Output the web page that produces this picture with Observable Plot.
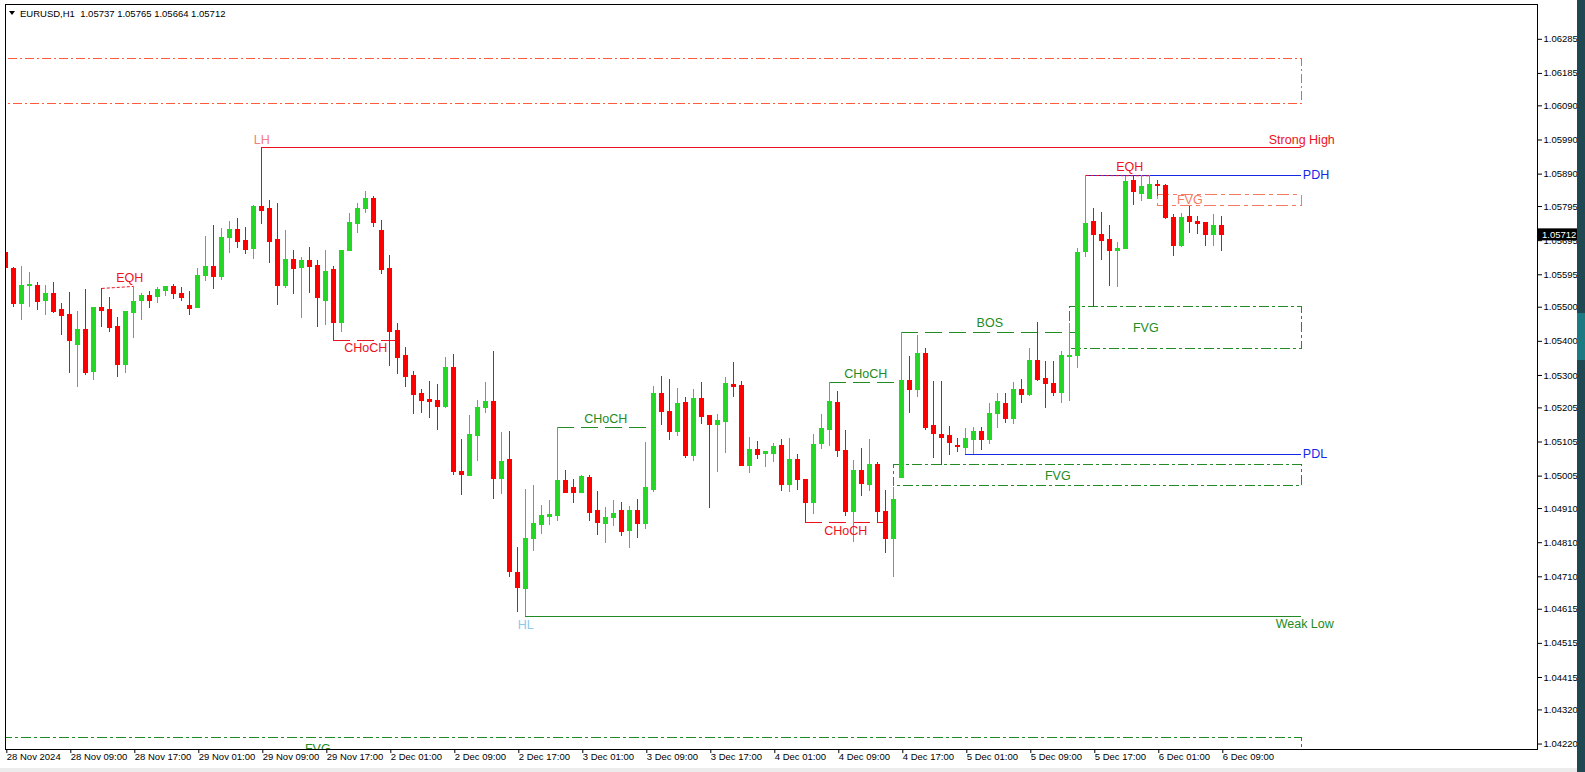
<!DOCTYPE html>
<html>
<head>
<meta charset="utf-8">
<script src="https://cdn.jsdelivr.net/npm/d3@7"></script>
<script src="https://cdn.jsdelivr.net/npm/@observablehq/plot@0.6"></script>
<style>
  html, body { margin:0; padding:0; background:#fff; overflow:hidden; }
  #wrap { position:relative; width:1585px; height:772px; }
  #chart svg { display:block; }
  .strip { position:absolute; left:1577px; width:8px; }
</style>
</head>
<body>
<div id="wrap">
  <div id="chart"></div>
  <div class="strip" style="top:0;height:772px;background:#1f4853"></div>
  <div class="strip" style="top:313px;height:47px;background:#1b7a82"></div>
  <div style="position:absolute;left:0;top:768px;width:1577px;height:4px;background:#ececec"></div>
</div>
<script>
// ---------- DATA ----------
const symbol = "EURUSD,H1";

const opens = [1.05659,1.05613,1.05510,1.05562,1.05563,1.05519,1.05540,1.05491,1.05477,1.05389,
1.05432,1.05310,1.05497,1.05491,1.05441,1.05330,1.05483,1.05519,1.05532,1.05530,
1.05547,1.05558,1.05540,1.05505,1.05497,1.05591,1.05617,1.05588,1.05703,1.05727,
1.05693,1.05670,1.05795,1.05787,1.05696,1.05562,1.05637,1.05615,1.05634,1.05622,
1.05518,1.05608,1.05454,1.05664,1.05744,1.05787,1.05816,1.05722,1.05611,1.05429,
1.05357,1.05297,1.05245,1.05227,1.05225,1.05209,1.05321,1.05016,1.05005,1.05122,
1.05204,1.05221,1.04996,1.05051,1.04720,1.04674,1.04821,1.04862,1.04885,1.04888,
1.04990,1.04969,1.04955,1.04999,1.04902,1.04866,1.04883,1.04902,1.04843,1.04904,
1.04865,1.04963,1.05245,1.05192,1.05134,1.05218,1.05063,1.05230,1.05180,1.05155,
1.05163,1.05272,1.05268,1.05035,1.05081,1.05070,1.05070,1.05092,1.04979,1.05051,
1.04993,1.04926,1.05098,1.05140,1.05218,1.05078,1.04900,1.05019,1.04979,1.05037,
1.04900,1.04821,1.05000,1.05283,1.05258,1.05364,1.05151,1.05127,1.05122,1.05094,
1.05087,1.05112,1.05133,1.05112,1.05188,1.05217,1.05172,1.05256,1.05243,1.05341,
1.05291,1.05276,1.05248,1.05354,1.05357,1.05662,1.05749,1.05713,1.05696,1.05664,
1.05670,1.05869,1.05832,1.05817,1.05858,1.05854,1.05760,1.05678,1.05763,1.05751,
1.05746,1.05711,1.05737];
const highs = [1.05687,1.05616,1.05620,1.05602,1.05573,1.05563,1.05573,1.05510,1.05543,1.05488,
1.05551,1.05497,1.05555,1.05528,1.05470,1.05485,1.05561,1.05540,1.05546,1.05559,
1.05560,1.05567,1.05559,1.05546,1.05614,1.05708,1.05740,1.05731,1.05751,1.05760,
1.05734,1.05799,1.05967,1.05813,1.05803,1.05725,1.05666,1.05645,1.05674,1.05637,
1.05666,1.05620,1.05666,1.05774,1.05803,1.05839,1.05823,1.05753,1.05652,1.05452,
1.05383,1.05312,1.05258,1.05282,1.05274,1.05354,1.05362,1.05113,1.05182,1.05227,
1.05278,1.05371,1.05133,1.05136,1.04795,1.04965,1.04978,1.04919,1.04934,1.05147,
1.05022,1.04996,1.05006,1.05006,1.04960,1.04912,1.04934,1.04928,1.04916,1.04937,
1.05104,1.05268,1.05297,1.05288,1.05262,1.05235,1.05259,1.05280,1.05180,1.05186,
1.05294,1.05338,1.05283,1.05119,1.05107,1.05075,1.05101,1.05113,1.05116,1.05068,
1.04996,1.05127,1.05186,1.05279,1.05253,1.05139,1.05051,1.05086,1.05113,1.05045,
1.04963,1.04973,1.05427,1.05356,1.05417,1.05379,1.05283,1.05281,1.05151,1.05115,
1.05144,1.05148,1.05148,1.05217,1.05247,1.05247,1.05280,1.05288,1.05379,1.05456,
1.05341,1.05341,1.05369,1.05452,1.05673,1.05886,1.05789,1.05778,1.05740,1.05690,
1.05882,1.05884,1.05885,1.05885,1.05872,1.05860,1.05772,1.05776,1.05795,1.05766,
1.05746,1.05772,1.05765];
const lows = [1.05600,1.05500,1.05461,1.05500,1.05489,1.05477,1.05483,1.05417,1.05307,1.05264,
1.05299,1.05286,1.05442,1.05427,1.05294,1.05305,1.05407,1.05461,1.05495,1.05510,
1.05530,1.05524,1.05518,1.05477,1.05497,1.05574,1.05553,1.05579,1.05657,1.05673,
1.05653,1.05640,1.05741,1.05628,1.05505,1.05554,1.05538,1.05468,1.05541,1.05442,
1.05446,1.05403,1.05427,1.05664,1.05715,1.05774,1.05735,1.05595,1.05325,1.05302,
1.05266,1.05186,1.05190,1.05174,1.05139,1.05202,1.05006,1.04947,1.05005,1.05049,
1.05188,1.04936,1.04950,1.04708,1.04604,1.04594,1.04785,1.04834,1.04859,1.04873,
1.04954,1.04925,1.04955,1.04873,1.04831,1.04809,1.04857,1.04829,1.04793,1.04821,
1.04849,1.04957,1.05152,1.05108,1.05122,1.05058,1.05049,1.05157,1.04909,1.05017,
1.05070,1.05236,1.05035,1.05014,1.05055,1.05029,1.05046,1.04961,1.04958,1.04964,
1.04868,1.04894,1.05083,1.05092,1.05061,1.04888,1.04812,1.04944,1.04961,1.04868,
1.04778,1.04709,1.05000,1.05188,1.05236,1.05139,1.05058,1.05037,1.05066,1.05073,
1.05069,1.05069,1.05081,1.05098,1.05144,1.05158,1.05157,1.05219,1.05237,1.05281,
1.05202,1.05239,1.05219,1.05225,1.05320,1.05647,1.05500,1.05637,1.05562,1.05559,
1.05670,1.05799,1.05811,1.05817,1.05823,1.05756,1.05649,1.05676,1.05717,1.05713,
1.05678,1.05679,1.05664];
const closes = [1.05614,1.05510,1.05563,1.05565,1.05516,1.05540,1.05486,1.05474,1.05401,1.05432,
1.05307,1.05497,1.05489,1.05439,1.05330,1.05485,1.05514,1.05532,1.05518,1.05549,
1.05560,1.05538,1.05527,1.05495,1.05592,1.05617,1.05588,1.05702,1.05727,1.05691,
1.05669,1.05795,1.05783,1.05691,1.05562,1.05637,1.05612,1.05634,1.05617,1.05528,
1.05602,1.05454,1.05664,1.05746,1.05787,1.05816,1.05746,1.05609,1.05427,1.05351,
1.05295,1.05243,1.05225,1.05221,1.05209,1.05321,1.05016,1.05008,1.05127,1.05206,
1.05221,1.04996,1.05045,1.04724,1.04678,1.04822,1.04864,1.04887,1.04890,1.04990,
1.04957,1.04955,1.05002,1.04897,1.04868,1.04883,1.04893,1.04841,1.04904,1.04865,
1.04969,1.05245,1.05193,1.05134,1.05215,1.05063,1.05230,1.05178,1.05155,1.05166,
1.05274,1.05266,1.05035,1.05081,1.05067,1.05075,1.05089,1.04979,1.05051,1.04993,
1.04926,1.05097,1.05142,1.05221,1.05078,1.04900,1.05019,1.04982,1.05039,1.04900,
1.04821,1.04936,1.05283,1.05258,1.05364,1.05146,1.05129,1.05118,1.05102,1.05091,
1.05114,1.05133,1.05112,1.05188,1.05221,1.05172,1.05256,1.05243,1.05341,1.05288,
1.05274,1.05250,1.05356,1.05357,1.05660,1.05745,1.05711,1.05694,1.05664,1.05672,
1.05866,1.05837,1.05853,1.05857,1.05855,1.05760,1.05678,1.05760,1.05749,1.05745,
1.05711,1.05737,1.05712];

// time axis: bar index of each label, and label text
const timeTickBars = [0,8,16,24,32,40,48,56,64,72,80,88,96,104,112,120,128,136,144,152];
const timeLabels = ["28 Nov 2024","28 Nov 09:00","28 Nov 17:00","29 Nov 01:00","29 Nov 09:00","29 Nov 17:00",
  "2 Dec 01:00","2 Dec 09:00","2 Dec 17:00","3 Dec 01:00","3 Dec 09:00","3 Dec 17:00",
  "4 Dec 01:00","4 Dec 09:00","4 Dec 17:00","5 Dec 01:00","5 Dec 09:00","5 Dec 17:00",
  "6 Dec 01:00","6 Dec 09:00"];

// price axis tick labels
const priceTicks = [1.06285,1.06185,1.06090,1.05990,1.05890,1.05795,1.05695,1.05595,1.05500,1.05400,
  1.05300,1.05205,1.05105,1.05005,1.04910,1.04810,1.04710,1.04615,1.04515,1.04415,1.04320,1.04220];

// horizontal levels (start bar, price)
const levelNames = ["Strong High","Weak Low","PDH","PDL"];
const levelFrom  = [32, 65, 135, 120];
const levelPrice = [1.05967, 1.04594, 1.05886, 1.05069];
const levelEndBar = 162;

// swing labels
const swingText  = ["LH","HL"];
const swingBar   = [32, 65];
const swingPrice = [1.05967, 1.04594];

// structure breaks
const structText  = ["CHoCH","CHoCH","CHoCH","CHoCH","BOS"];
const structFrom  = [41, 69, 100, 103, 112];
const structTo    = [49, 81, 110, 112, 134];
const structPrice = [1.05403, 1.05147, 1.04868, 1.05279, 1.05427];
const structBull  = [false, true, false, true, true];

// equal highs
const eqhFrom = [12, 135];
const eqhTo = [16, 143];
const eqhPriceFrom = [1.05555, 1.05886];
const eqhPriceTo = [1.05561, 1.05885];

// fair value gaps
const fvgFrom   = [-74, 111, 133, 144];
const fvgTop    = [1.04237, 1.05037, 1.05500, 1.05828];
const fvgBottom = [1.04172, 1.04975, 1.05379, 1.05798];
const fvgBull   = [true, true, true, false];

// supply zone (unlabelled)
const zoneFrom = [-74];
const zoneTop = [1.06228];
const zoneBottom = [1.06094];

// ---------- STYLE ----------
const bullColor = "#26d626", bearColor = "#ff0000";
const green = "#238b23", red = "#ee1122", blue = "#1428e6", salmon = "#f47a64", zoneColor = "#ff5c3c";
const labelFont = 12.5;

// ---------- TABLES ----------
const idx = d3.range(opens.length);
const lastIdx = idx.length - 1;
const colorOf = i => closes[i] >= opens[i] ? bullColor : bearColor;

const levels = levelNames.map((name, k) => ({name, from: levelFrom[k], to: levelEndBar, price: levelPrice[k]}));
const swings = swingText.map((t, k) => ({t, bar: swingBar[k], price: swingPrice[k]}));
const structs = structText.map((t, k) => ({t, from: structFrom[k], to: structTo[k], price: structPrice[k], bull: structBull[k]}));
const eqhs = eqhFrom.map((f, k) => ({from: f, to: eqhTo[k], p1: eqhPriceFrom[k], p2: eqhPriceTo[k]}));
const fvgs = fvgFrom.map((f, k) => ({from: f, to: levelEndBar, top: fvgTop[k], bottom: fvgBottom[k], bull: fvgBull[k]}));
const zones = zoneFrom.map((f, k) => ({from: f, to: levelEndBar, top: zoneTop[k], bottom: zoneBottom[k]}));
const levelColor = {"Strong High": red, "Weak Low": green, "PDH": blue, "PDL": blue};

const chart = Plot.plot({
  width: 1585, height: 772,
  marginLeft: 5, marginRight: 48, marginTop: 4, marginBottom: 23,
  x: {type: "linear", domain: [-0.0375, 191.4625], axis: null},
  y: {domain: [1.04204, 1.06387], axis: null},
  style: {fontFamily: "'Liberation Sans', Arial, sans-serif", fontSize: "9.5px", color: "#000", background: "#fff"},
  marks: [
    // zones & FVG boxes
    Plot.rect(zones, {x1: "from", x2: "to", y1: "bottom", y2: "top", fill: "none", stroke: zoneColor, strokeDasharray: "9,3,2,3", clip: true, shapeRendering: "crispEdges"}),
    Plot.rect(fvgs.filter(d => d.bull), {x1: "from", x2: "to", y1: "bottom", y2: "top", fill: "none", stroke: green, strokeDasharray: "10,3,3,3", clip: true, shapeRendering: "crispEdges"}),
    Plot.rect(fvgs.filter(d => !d.bull), {x1: "from", x2: "to", y1: "bottom", y2: "top", fill: "none", stroke: salmon, strokeDasharray: "12,4,4,4", clip: true, shapeRendering: "crispEdges"}),
    // levels
    Plot.ruleY(levels, {y: "price", x1: "from", x2: "to", stroke: d => levelColor[d.name], clip: true, shapeRendering: "crispEdges"}),
    // structure
    Plot.ruleY(structs, {y: "price", x1: "from", x2: "to", stroke: d => d.bull ? green : red, strokeDasharray: "17,7", clip: true, shapeRendering: "crispEdges"}),
    // equal highs
    Plot.link(eqhs, {x1: "from", x2: "to", y1: "p1", y2: "p2", stroke: red, strokeDasharray: "3,2", clip: true}),
    // candles
    Plot.ruleX(idx, {x: i => i, y1: i => lows[i], y2: i => highs[i], stroke: colorOf, strokeWidth: 1, clip: true, shapeRendering: "crispEdges"}),
    Plot.rect(idx, {x1: i => i - 0.32, x2: i => i + 0.32, y1: i => Math.min(opens[i], closes[i]), y2: i => Math.max(opens[i], closes[i]),
      fill: colorOf, insetTop: -0.5, insetBottom: -0.5, clip: true, shapeRendering: "crispEdges"}),
    // labels
    Plot.text(structs.filter(d => d.bull), {x: d => (d.from + d.to) / 2, y: "price", text: "t", fill: green, fontSize: labelFont, clip: true, dy: -9}),
    Plot.text(structs.filter(d => !d.bull), {x: d => (d.from + d.to) / 2, y: "price", text: "t", fill: red, fontSize: labelFont, clip: true, dy: 8}),
    Plot.text(eqhs, {x: d => (d.from + d.to) / 2, y: d => Math.max(d.p1, d.p2), text: () => "EQH", fill: red, fontSize: labelFont, dx: 12, dy: -8, clip: true}),
    Plot.text(fvgs.filter(d => d.bull), {x: d => (d.from + lastIdx) / 2, y: d => (d.top + d.bottom) / 2, text: () => "FVG", fill: green, fontSize: labelFont, clip: true}),
    Plot.text(fvgs.filter(d => !d.bull), {x: d => (d.from + lastIdx) / 2, y: d => (d.top + d.bottom) / 2, text: () => "FVG", fill: salmon, fontSize: labelFont, clip: true}),
    Plot.text(swings.filter(d => d.t === "LH"), {x: "bar", y: "price", text: "t", fill: "#f08080", fontSize: labelFont, dy: -8}),
    Plot.text(swings.filter(d => d.t === "HL"), {x: "bar", y: "price", text: "t", fill: "#8cc8f0", fontSize: labelFont, dy: 9}),
    Plot.text(levels.filter(d => d.name === "Strong High"), {x: "to", y: "price", text: "name", fill: red, fontSize: labelFont, textAnchor: "end", dx: 33, dy: -8}),
    Plot.text(levels.filter(d => d.name === "Weak Low"), {x: "to", y: "price", text: "name", fill: green, fontSize: labelFont, textAnchor: "end", dx: 32, dy: 8}),
    Plot.text(levels.filter(d => d.name === "PDH" || d.name === "PDL"), {x: "to", y: "price", text: "name", fill: blue, fontSize: labelFont, textAnchor: "start", dx: 1}),
    // frame & axes
    Plot.frame({stroke: "#000", shapeRendering: "crispEdges"}),
    Plot.axisY({anchor: "right", ticks: priceTicks, tickSize: 4, tickPadding: 2, tickFormat: d => d.toFixed(5), fill: "#000", stroke: "#000"}),
    Plot.axisX({anchor: "bottom", ticks: timeTickBars, tickSize: 4, tickPadding: 0, textAnchor: "start", dx: 1,
      tickFormat: b => timeLabels[timeTickBars.indexOf(b)], fill: "#000", stroke: "#000"})
  ]
});

document.getElementById("chart").appendChild(chart);

// header and current price box (positioned through the plot's y scale)
const svg = d3.select(chart);
const yScale = chart.scale("y");
svg.append("path").attr("d", "M9,11L15,11L12,15Z").attr("fill", "#000");
svg.append("text").attr("x", 20).attr("y", 16.5).attr("text-anchor", "start")
  .attr("font-size", "9.5px").attr("fill", "#000")
  .attr("xml:space", "preserve").style("white-space", "pre")
  .text(`${symbol}  ${opens[lastIdx].toFixed(5)} ${highs[lastIdx].toFixed(5)} ${lows[lastIdx].toFixed(5)} ${closes[lastIdx].toFixed(5)}`);
const yc = yScale.apply(closes[lastIdx]);
svg.append("rect").attr("x", 1538).attr("y", yc - 6).attr("width", 39).attr("height", 12).attr("fill", "#000");
svg.append("text").attr("x", 1542).attr("y", yc).attr("dy", "0.35em").attr("text-anchor", "start")
  .attr("font-size", "9.5px").attr("fill", "#fff")
  .text(closes[lastIdx].toFixed(5));
</script>
</body>
</html>
